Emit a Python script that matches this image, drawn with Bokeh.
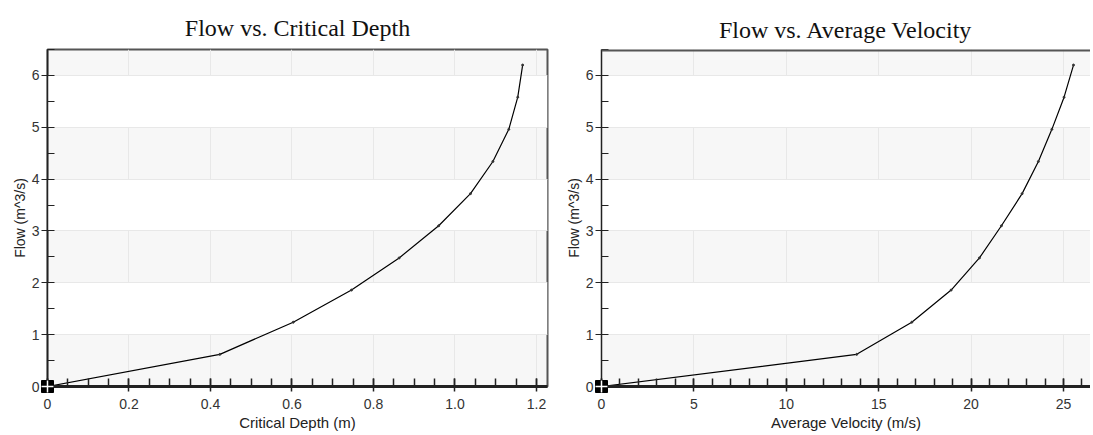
from bokeh.plotting import figure
from bokeh.layouts import row
from bokeh.models import Range1d, CustomJSTickFormatter, SingleIntervalTicker, Span
from bokeh.embed import file_html
from bokeh.resources import INLINE

# Data
flow = [0.0, 0.62, 1.24, 1.86, 2.48, 3.10, 3.72, 4.34, 4.96, 5.58, 6.20]
critical_depth = [0.0, 0.423, 0.603, 0.746, 0.863, 0.960, 1.038, 1.093, 1.132, 1.154, 1.166]
avg_velocity = [0.0, 13.81, 16.79, 18.92, 20.45, 21.64, 22.76, 23.64, 24.37, 25.03, 25.54]

title_left = "Flow vs. Critical Depth"
title_right = "Flow vs. Average Velocity"
xlabel_left = "Critical Depth (m)"
xlabel_right = "Average Velocity (m/s)"
ylabel = "Flow (m^3/s)"
Y_MAX = 6.5

SANS = "Liberation Sans"
SERIF = "Liberation Serif"


def make_fig(width, height, mbl, mbr, mbt, mbb, xend, xlab, xint, xminor, title, t_standoff, fmt):
    p = figure(width=width, height=height, output_backend="svg", toolbar_location=None,
               x_range=Range1d(0, xend), y_range=Range1d(0, Y_MAX), title=title,
               min_border_left=mbl, min_border_right=mbr, min_border_top=mbt, min_border_bottom=mbb,
               background_fill_color="#f7f7f7", border_fill_color="white")
    p.title.align = "center"
    p.title.text_font = SERIF
    p.title.text_font_size = "24px"
    p.title.text_font_style = "normal"
    p.title.text_color = "#111111"
    p.title.standoff = t_standoff

    xt = SingleIntervalTicker(interval=xint, num_minor_ticks=xminor)
    yt = SingleIntervalTicker(interval=1, num_minor_ticks=2)
    p.xaxis.ticker = xt
    p.xgrid.ticker = xt
    p.yaxis.ticker = yt
    p.ygrid.ticker = yt
    if fmt is not None:
        p.xaxis.formatter = fmt

    for ax in (p.xaxis, p.yaxis):
        ax.axis_line_color = "#222222"
        ax.major_tick_line_color = "#222222"
        ax.minor_tick_line_color = "#222222"
        ax.major_label_text_font = SANS
        ax.major_label_text_font_size = "14px"
        ax.major_label_text_color = "#333333"
        ax.axis_label_text_font = SANS
        ax.axis_label_text_font_style = "normal"
        ax.axis_label_text_color = "#222222"

    p.xaxis.axis_line_width = 3
    p.xaxis.major_tick_in = 8
    p.xaxis.major_tick_out = 5
    p.xaxis.minor_tick_in = 8
    p.xaxis.minor_tick_out = 0
    p.xaxis.major_tick_line_width = 1.5
    p.xaxis.minor_tick_line_width = 1.5
    p.xaxis.major_label_standoff = 7
    p.xaxis.axis_label = xlab
    p.xaxis.axis_label_text_font_size = "15px"
    p.xaxis.axis_label_standoff = 2

    p.yaxis.axis_line_width = 1.5
    p.yaxis.major_tick_in = 0
    p.yaxis.major_tick_out = 6
    p.yaxis.minor_tick_in = 7
    p.yaxis.minor_tick_out = 0
    p.yaxis.major_label_standoff = 2
    p.yaxis.axis_label = ylabel
    p.yaxis.axis_label_text_font_size = "14px"
    p.yaxis.axis_label_standoff = 1

    p.xgrid.grid_line_color = "#e8e8e8"
    p.ygrid.grid_line_color = "#e8e8e8"
    p.ygrid.band_fill_color = "white"
    p.ygrid.band_fill_alpha = 1.0
    return p


fmt_left = CustomJSTickFormatter(code="return tick == 0 ? '0' : tick.toFixed(1);")

# left chart
p1 = make_fig(560, 433, 47, 13, 45, 46, 1.227, xlabel_left, 0.2, 4, title_left, 17, fmt_left)
p1.outline_line_color = "#555555"
p1.outline_line_width = 2

# right chart: open on the right (cut by the window)
p2 = make_fig(530, 433, 41, 0, 49, 46, 26.46, xlabel_right, 5, 5, title_right, 14, None)
p2.outline_line_color = None
p2.add_layout(Span(location=Y_MAX, dimension="width", line_color="#555555", line_width=4))

for p, xs in ((p1, critical_depth), (p2, avg_velocity)):
    p.line(xs, flow, line_color="black", line_width=1.2)
    p.scatter(xs[1:], flow[1:], marker="circle", size=2, color="#333333")
    p.scatter(xs[:1], flow[:1], marker="square", size=12, color="black", level="overlay")
    p.scatter(xs[:1], flow[:1], marker="cross", size=12, line_color="white", line_width=1.5,
              level="overlay")

layout = row(p1, p2)
open("out.html", "w").write(file_html(layout, INLINE))
